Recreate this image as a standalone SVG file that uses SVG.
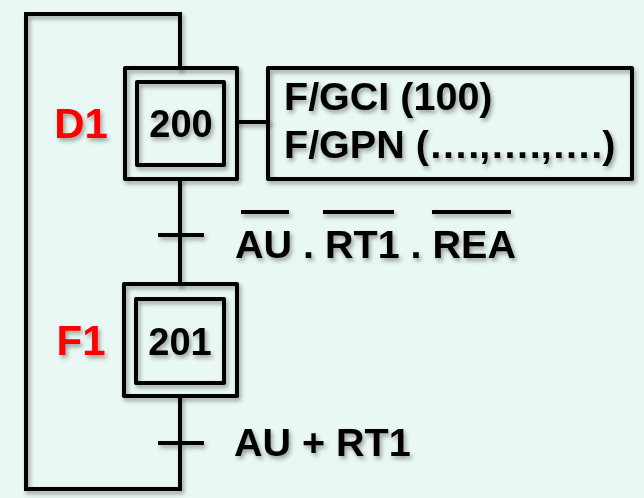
<svg xmlns="http://www.w3.org/2000/svg" width="644" height="498" viewBox="0 0 644 498">
<defs>
<filter id="sh" x="-20%" y="-20%" width="140%" height="140%">
<feDropShadow dx="2" dy="3" stdDeviation="2" flood-color="#000" flood-opacity="0.35"/>
</filter>
<style>
.ln{fill:none;stroke:#000;stroke-width:4;stroke-linecap:square}
.bx{fill:none;stroke:#000;stroke-width:4;stroke-linejoin:round}
.t{font-family:"Liberation Sans",Arial,sans-serif;font-weight:bold;font-size:38px;fill:#000}
.t2{font-size:39.5px}
.lab{font-family:"Liberation Sans",Arial,sans-serif;font-weight:bold;font-size:42px;fill:#ff0000}
</style>
</defs>
<rect width="644" height="498" fill="#e9f8f4"/>
<g id="connectors" filter="url(#sh)">
<polyline class="ln" points="180,68 180,14 26,14 26,489 180,489 180,396"/>
<line class="ln" x1="180" y1="179" x2="180" y2="284"/>
<line class="ln" x1="237" y1="122" x2="268" y2="122"/>
<line class="ln" x1="160" y1="235" x2="202" y2="235"/>
<line class="ln" x1="160" y1="443" x2="202" y2="443"/>
</g>
<g id="step200" filter="url(#sh)">
<rect class="bx" x="125" y="68" width="112" height="111"/>
<rect class="bx" x="137" y="82" width="87" height="83"/>
<text class="t" x="181" y="137" text-anchor="middle">200</text>
<text class="lab" x="81" y="138" text-anchor="middle">D1</text>
</g>
<g id="action200" filter="url(#sh)">
<rect class="bx" x="268" y="68" width="364" height="111"/>
<text class="t t2" x="284" y="110">F/GCI (100)</text>
<text class="t t2" x="284" y="158">F/GPN (….,….,….)</text>
</g>
<g id="trans1" filter="url(#sh)">
<text class="t t2" x="235" y="258">AU . RT1 . REA</text>
<line class="ln" x1="243" y1="212" x2="287" y2="212" stroke-linecap="butt"/>
<line class="ln" x1="325" y1="212" x2="392" y2="212" stroke-linecap="butt"/>
<line class="ln" x1="434" y1="212" x2="509" y2="212" stroke-linecap="butt"/>
</g>
<g id="step201" filter="url(#sh)">
<rect class="bx" x="124" y="284" width="113" height="112"/>
<rect class="bx" x="136" y="299" width="88" height="84"/>
<text class="t" x="180" y="355" text-anchor="middle">201</text>
<text class="lab" x="81" y="355" text-anchor="middle">F1</text>
</g>
<g id="trans2" filter="url(#sh)">
<text class="t t2" x="234" y="456">AU + RT1</text>
</g>
</svg>
